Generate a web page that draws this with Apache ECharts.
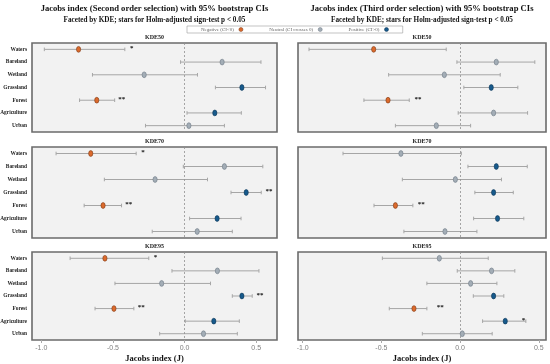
<!DOCTYPE html>
<html><head><meta charset="utf-8">
<script src="https://cdn.jsdelivr.net/npm/echarts@6/dist/echarts.min.js"></script>
<style>html,body{margin:0;padding:0;background:#fff}#c{width:550px;height:364px}</style>
</head><body><div id="c"></div>
<script>
const categories = ['Waters','Bareland','Wetland','Grassland','Forest','Agriculture','Urban'];
const facetLabels = ['KDE50','KDE70','KDE95'];
const tickValues = [-1.0, -0.5, 0.0, 0.5];
const classNames = ['Negative (CI<0)','Neutral (CI crosses 0)','Positive (CI>0)'];

// Second order selection
const second50Est = [-0.74, 0.262, -0.282, 0.40, -0.613, 0.211, 0.03];
const second50Lo  = [-0.979, -0.028, -0.643, 0.215, -0.733, 0.017, -0.273];
const second50Hi  = [-0.417, 0.533, 0.09, 0.565, -0.488, 0.396, 0.278];
const second50Star  = ['*','','','','**','',''];
const second50StarX = [-0.368, null, null, null, -0.438, null, null];

const second70Est = [-0.655, 0.278, -0.206, 0.43, -0.569, 0.227, 0.088];
const second70Lo  = [-0.897, -0.009, -0.56, 0.324, -0.701, 0.035, -0.226];
const second70Hi  = [-0.338, 0.546, 0.16, 0.535, -0.44, 0.394, 0.333];
const second70Star  = ['*','','','**','**','',''];
const second70StarX = [-0.291, null, null, 0.589, -0.389, null, null];

const second95Est = [-0.556, 0.229, -0.16, 0.40, -0.493, 0.204, 0.132];
const second95Lo  = [-0.799, -0.088, -0.486, 0.333, -0.625, 0.005, -0.174];
const second95Hi  = [-0.25, 0.519, 0.181, 0.472, -0.354, 0.382, 0.368];
const second95Star  = ['*','','','**','**','',''];
const second95StarX = [-0.203, null, null, 0.526, -0.303, null, null];

// Third order selection
const third50Est = [-0.549, 0.23, -0.10, 0.198, -0.458, 0.213, -0.151];
const third50Lo  = [-0.96, -0.02, -0.454, 0.024, -0.611, -0.012, -0.411];
const third50Hi  = [-0.088, 0.475, 0.255, 0.367, -0.323, 0.429, 0.067];
const third50Star  = ['','','','','**','',''];
const third50StarX = [null, null, null, null, -0.268, null, null];

const third70Est = [-0.376, 0.23, -0.03, 0.213, -0.411, 0.238, -0.096];
const third70Lo  = [-0.744, 0.05, -0.367, 0.094, -0.547, 0.086, -0.357];
const third70Hi  = [0.008, 0.427, 0.263, 0.338, -0.30, 0.405, 0.107];
const third70Star  = ['','','','','**','',''];
const third70StarX = [null, null, null, null, -0.246, null, null];

const third95Est = [-0.132, 0.20, 0.067, 0.213, -0.293, 0.287, 0.014];
const third95Lo  = [-0.494, -0.018, -0.211, 0.084, -0.45, 0.143, -0.24];
const third95Hi  = [0.179, 0.348, 0.234, 0.278, -0.211, 0.418, 0.204];
const third95Star  = ['','','','','**','*',''];
const third95StarX = [null, null, null, null, -0.126, 0.403, null];

const panels = [
  {col:0,row:0,est:second50Est,lo:second50Lo,hi:second50Hi,star:second50Star,starX:second50StarX},
  {col:0,row:1,est:second70Est,lo:second70Lo,hi:second70Hi,star:second70Star,starX:second70StarX},
  {col:0,row:2,est:second95Est,lo:second95Lo,hi:second95Hi,star:second95Star,starX:second95StarX},
  {col:1,row:0,est:third50Est,lo:third50Lo,hi:third50Hi,star:third50Star,starX:third50StarX},
  {col:1,row:1,est:third70Est,lo:third70Lo,hi:third70Hi,star:third70Star,starX:third70StarX},
  {col:1,row:2,est:third95Est,lo:third95Lo,hi:third95Hi,star:third95Star,starX:third95StarX}
];

const rows = [{top:43,height:89},{top:147,height:91},{top:252,height:88}];
const cols = [{left:32,width:245,min:-1.065,max:0.645,title:'Jacobs index (Second order selection) with 95% bootstrap CIs'},
              {left:298,width:248,min:-1.03,max:0.546,title:'Jacobs index (Third order selection) with 95% bootstrap CIs'}];
const classColors = ['#dc6a2c','#a3adb6','#175a8c'];
const classBorders = ['#7a3a18','#6f7b86','#0e3554'];
const serif = 'Liberation Serif';

const grid=[], xAxis=[], yAxis=[], series=[];
panels.forEach((p,k)=>{
  const r=rows[p.row], c=cols[p.col];
  grid.push({left:c.left, top:r.top, width:c.width, height:r.height, show:true,
    outerBoundsMode:'none', containLabel:false,
    backgroundColor:'#f2f2f2', borderColor:'#6b6b6b', borderWidth:1.6});
  const bottom = p.row===2;
  xAxis.push({type:'value', gridIndex:k, min:c.min, max:c.max,
    axisLine:{show:false}, splitLine:{show:false},
    axisTick:{show:bottom, customValues:tickValues, length:3, lineStyle:{color:'#aaa'}},
    axisLabel:{show:bottom, customValues:tickValues, fontSize:7, color:'#808080', margin:5,
      fontFamily:'Liberation Sans', formatter:v=>Number(v).toFixed(1)}});
  yAxis.push({type:'category', gridIndex:k, data:categories, inverse:true,
    axisLine:{show:false}, axisTick:{show:false}, splitLine:{show:false},
    axisLabel:{show:p.col===0, fontSize:5.4, fontWeight:'bold', fontFamily:serif, color:'#222', margin:5}});
  // error bars
  series.push({type:'custom', xAxisIndex:k, yAxisIndex:k, z:2,
    data:categories.map((_,i)=>[p.lo[i],p.hi[i],i]),
    encode:{x:[0,1], y:2},
    renderItem:(params,api)=>{
      const a=api.coord([api.value(0),api.value(2)]), b=api.coord([api.value(1),api.value(2)]);
      const st={stroke:'#a6a6a6', lineWidth:1};
      return {type:'group', children:[
        {type:'line', shape:{x1:a[0],y1:a[1],x2:b[0],y2:b[1]}, style:st},
        {type:'line', shape:{x1:a[0],y1:a[1]-1.8,x2:a[0],y2:a[1]+1.8}, style:st},
        {type:'line', shape:{x1:b[0],y1:b[1]-1.8,x2:b[0],y2:b[1]+1.8}, style:st}
      ]};
    }
  });
  // zero reference line
  series.push({type:'line', xAxisIndex:k, yAxisIndex:k, z:1, symbol:'none', silent:true,
    data:[[0,0],[0,categories.length-1]],
    lineStyle:{width:0, opacity:0},
    markLine:{silent:true, symbol:['none','none'], label:{show:false},
      lineStyle:{type:[2,2], color:'#909090', width:0.8}, data:[{xAxis:0}]}
  });
  // points by class
  classNames.forEach((nm,ci)=>{
    const data=[];
    categories.forEach((_,i)=>{
      const cls = p.hi[i]<0 ? 0 : (p.lo[i]>0 ? 2 : 1);
      if(cls===ci) data.push([p.est[i], i]);
    });
    series.push({type:'scatter', name:nm, xAxisIndex:k, yAxisIndex:k, z:5,
      data, symbol:'circle', symbolSize:[4.2,5.8],
      itemStyle:{color:classColors[ci], borderColor:classBorders[ci], borderWidth:0.6, opacity:1}});
  });
  // stars
  const starIdx = categories.map((_,i)=>i).filter(i=>p.star[i]);
  const starTexts = starIdx.map(i=>p.star[i]);
  series.push({type:'custom', xAxisIndex:k, yAxisIndex:k, z:6,
    data:starIdx.map(i=>[p.starX[i], i]),
    renderItem:(params,api)=>{
      const pt=api.coord([api.value(0),api.value(1)]);
      return {type:'text', x:pt[0], y:pt[1]-1,
        style:{text:starTexts[params.dataIndex], fill:'#111', font:'bold 7px '+serif, textAlign:'center', textVerticalAlign:'middle'}};
    }
  });
});

const graphic=[];
cols.forEach((c)=>{
  const cx=c.left+c.width/2;
  graphic.push({type:'text', x:cx, y:9, style:{text:c.title, fill:'#111', font:'bold 8.6px '+serif, textAlign:'center', textVerticalAlign:'middle'}});
  graphic.push({type:'text', x:cx, y:20, style:{text:'Faceted by KDE; stars for Holm-adjusted sign-test p < 0.05', fill:'#111', font:'bold 7.2px '+serif, textAlign:'center', textVerticalAlign:'middle'}});
  rows.forEach((r,ri)=>{
    graphic.push({type:'text', x:cx, y:r.top-6, style:{text:facetLabels[ri], fill:'#222', font:'bold 6px '+serif, textAlign:'center', textVerticalAlign:'middle'}});
  });
  graphic.push({type:'text', x:cx, y:359, style:{text:'Jacobs index (J)', fill:'#111', font:'bold 8.5px '+serif, textAlign:'center', textVerticalAlign:'middle'}});
});

const chart=echarts.init(document.getElementById('c'),null,{renderer:'canvas'});
chart.setOption({
  animation:false,
  backgroundColor:'#fff',
  grid, xAxis, yAxis, series, graphic,
  legend:{data:classNames.map((nm,ci)=>({name:nm, icon:'circle',
      itemStyle:{color:classColors[ci], borderColor:classBorders[ci], borderWidth:0.5}})),
    left:187, top:26, width:206, align:'right',
    backgroundColor:'#fff', borderColor:'#9a9a9a', borderWidth:0.6, padding:[1,14,1,14],
    itemGap:26, itemWidth:4, itemHeight:6,
    textStyle:{fontSize:5, color:'#666', fontFamily:serif, padding:[0,0,0,0]}}
});
</script></body></html>
